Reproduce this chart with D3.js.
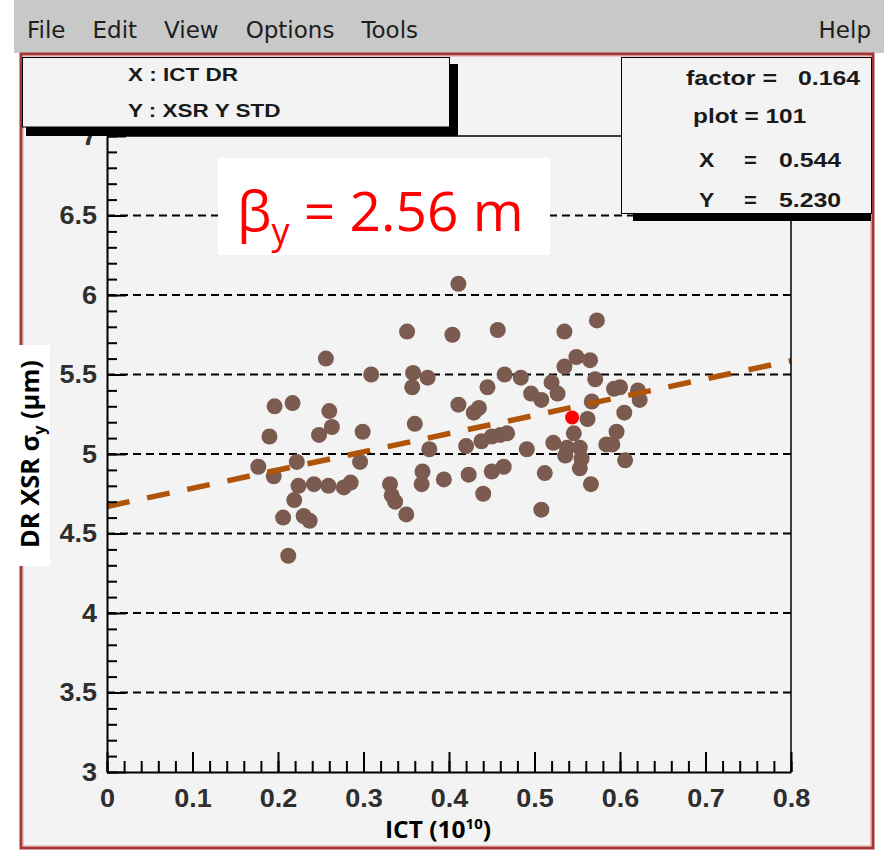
<!DOCTYPE html>
<html>
<head>
<meta charset="utf-8">
<script src="https://cdn.jsdelivr.net/npm/d3@7"></script>
<style>
  body { margin: 0; background: #ffffff; }
  svg { display: block; }
</style>
</head>
<body>
<svg id="chart" width="884" height="852"></svg>
<script>
// ---- data -------------------------------------------------------------
// bunch charge from the ICT (1e10) and vertical beam size from the XSR (um)
const ictValues = [
  0.177, 0.195, 0.190, 0.196, 0.217, 0.222, 0.206, 0.212, 0.219, 0.224,
  0.230, 0.237, 0.242, 0.248, 0.256, 0.260, 0.263, 0.259, 0.277, 0.285,
  0.299, 0.296, 0.309, 0.331, 0.333, 0.337, 0.350, 0.351, 0.358, 0.375,
  0.357, 0.360, 0.377, 0.369, 0.368, 0.394, 0.411, 0.404, 0.411, 0.435,
  0.429, 0.420, 0.438, 0.450, 0.468, 0.423, 0.450, 0.464, 0.440, 0.445,
  0.457, 0.465, 0.484, 0.496, 0.508, 0.491, 0.512, 0.508, 0.520, 0.527,
  0.535, 0.535, 0.549, 0.565, 0.571, 0.567, 0.562, 0.573, 0.593, 0.600,
  0.621, 0.623, 0.605, 0.546, 0.522, 0.538, 0.536, 0.553, 0.555, 0.553,
  0.596, 0.591, 0.584, 0.606, 0.566, 0.460
];
const stdValues = [
  4.92, 4.86, 5.11, 5.30, 5.32, 4.95, 4.60, 4.36, 4.71, 4.80,
  4.61, 4.58, 4.81, 5.12, 5.60, 5.27, 5.17, 4.80, 4.79, 4.82,
  5.14, 4.95, 5.50, 4.81, 4.74, 4.70, 4.62, 5.77, 5.51, 5.48,
  5.42, 5.19, 5.03, 4.89, 4.81, 4.84, 6.07, 5.75, 5.31, 5.29,
  5.26, 5.05, 5.08, 5.11, 5.13, 4.87, 4.89, 4.92, 4.75, 5.42,
  5.78, 5.50, 5.48, 5.38, 5.34, 5.03, 4.88, 4.65, 5.45, 5.38,
  5.77, 5.55, 5.61, 5.59, 5.47, 5.33, 5.22, 5.84, 5.41, 5.42,
  5.40, 5.34, 5.26, 5.13, 5.07, 5.04, 4.99, 5.04, 4.97, 4.91,
  5.14, 5.06, 5.06, 4.96, 4.81, 5.12
];
// the point picked with the cursor
const cursorPoint = { x: 0.544, y: 5.230 };
// straight-line fit of size vs. charge
const fitIntercept = 4.67;
const fitSlope = 1.146;

const xTicks = [0, 0.1, 0.2, 0.3, 0.4, 0.5, 0.6, 0.7, 0.8];
const yTicks = [3, 3.5, 4, 4.5, 5, 5.5, 6, 6.5, 7];
const gridLevels = [3.5, 4, 4.5, 5, 5.5, 6, 6.5];
const menuItems = ["File", "Edit", "View", "Options", "Tools"];
const axisBoxLines = ["X : ICT DR", "Y : XSR Y STD"];
const infoRows = [
  { key: "factor =", val: "0.164" },
  { key: "plot  = 101", val: "" },
  { key: "X", val: "0.544" },
  { key: "Y", val: "5.230" }
];

// ---- drawing ----------------------------------------------------------
const svg = d3.select("#chart");
const sans = "'Liberation Sans', Arial, sans-serif";

// stretch a text element horizontally (the X11 bitmap fonts run wide)
function widen(sel, k) {
  sel.each(function () {
    const w = this.getComputedTextLength();
    d3.select(this).attr("textLength", w * k).attr("lengthAdjust", "spacingAndGlyphs");
  });
}

// menu bar
svg.append("rect").attr("x", 14).attr("y", 0).attr("width", 870).attr("height", 53)
  .attr("fill", "#c8c8c8");
let mx = 27;
menuItems.forEach(m => {
  const t = svg.append("text").attr("x", mx).attr("y", 38)
    .attr("font-family", "'DejaVu Sans', sans-serif").attr("font-size", 23)
    .attr("fill", "#1e1e1e").text(m);
  mx += t.node().getComputedTextLength() + 27;
});
svg.append("text").attr("x", 871).attr("y", 38).attr("text-anchor", "end")
  .attr("font-family", "'DejaVu Sans', sans-serif").attr("font-size", 23)
  .attr("fill", "#1e1e1e").text("Help");

// canvas
svg.append("rect").attr("x", 21).attr("y", 54).attr("width", 852).attr("height", 794)
  .attr("fill", "#f3f3f3").attr("stroke", "#a83434").attr("stroke-width", 3);
svg.append("rect").attr("x", 23.5).attr("y", 56.5).attr("width", 847).attr("height", 789)
  .attr("fill", "none").attr("stroke", "#eec4c4").attr("stroke-width", 1);

// scales
const x = d3.scaleLinear().domain([0, 0.8]).range([107, 791]);
const y = d3.scaleLinear().domain([3, 7]).range([772, 136]);

// horizontal dashed grid
svg.append("g").selectAll("line").data(gridLevels).join("line")
  .attr("x1", x(0)).attr("x2", x(0.8))
  .attr("y1", d => y(d)).attr("y2", d => y(d))
  .attr("stroke", "#000").attr("stroke-width", 2).attr("stroke-dasharray", "8,5");

// scatter points
const pts = ictValues.map((v, i) => ({ x: v, y: stdValues[i] }));
svg.append("g").selectAll("circle").data(pts).join("circle")
  .attr("cx", d => x(d.x)).attr("cy", d => y(d.y)).attr("r", 8)
  .attr("fill", "#7b5b4f");

// fit line
const fitDomain = x.domain();
svg.append("line")
  .attr("x1", x(fitDomain[0])).attr("y1", y(fitIntercept + fitSlope * fitDomain[0]))
  .attr("x2", x(fitDomain[1])).attr("y2", y(fitIntercept + fitSlope * fitDomain[1]))
  .attr("stroke", "#b0540a").attr("stroke-width", 5.5).attr("stroke-dasharray", "23,18");

// cursor point
svg.append("circle").attr("cx", x(cursorPoint.x)).attr("cy", y(cursorPoint.y)).attr("r", 7)
  .attr("fill", "#ff0000");

// frame
svg.append("line").attr("x1", x(0)).attr("x2", x(0.8)).attr("y1", y(7)).attr("y2", y(7))
  .attr("stroke", "#000").attr("stroke-width", 1.5);
svg.append("line").attr("x1", x(0.8)).attr("x2", x(0.8)).attr("y1", y(7)).attr("y2", y(3))
  .attr("stroke", "#000").attr("stroke-width", 1.5);

// axes: minor ticks
svg.append("g").attr("transform", `translate(0,${y(3)})`)
  .call(d3.axisBottom(x).tickValues(d3.range(0, 0.8001, 0.02)).tickSize(-11).tickFormat(""))
  .call(g => g.select(".domain").remove())
  .selectAll("line").attr("stroke-width", 2);
svg.append("g").attr("transform", `translate(${x(0)},0)`)
  .call(d3.axisLeft(y).tickValues(d3.range(3, 7.001, 0.1)).tickSize(-10).tickFormat(""))
  .call(g => g.select(".domain").remove())
  .selectAll("line").attr("stroke-width", 2);

// axes: major ticks and labels
const xAxis = svg.append("g").attr("transform", `translate(0,${y(3)})`)
  .call(d3.axisBottom(x).tickValues(xTicks).tickSize(-20).tickSizeOuter(0).tickPadding(17)
    .tickFormat(d3.format("")));
const yAxis = svg.append("g").attr("transform", `translate(${x(0)},0)`)
  .call(d3.axisLeft(y).tickValues(yTicks).tickSize(-19).tickSizeOuter(0).tickPadding(10)
    .tickFormat(d3.format("")));
[xAxis, yAxis].forEach(g => {
  g.select(".domain").attr("stroke", "#000").attr("stroke-width", 2);
  g.selectAll(".tick line").attr("stroke", "#000").attr("stroke-width", 2);
  g.selectAll("text").attr("font-family", sans).attr("font-weight", "bold")
    .attr("font-size", 25).attr("fill", "#2e2e2e").call(widen, 1.08);
});

// axis-name box (top left)
svg.append("rect").attr("x", 450).attr("y", 64).attr("width", 8).attr("height", 72).attr("fill", "#000");
svg.append("rect").attr("x", 26).attr("y", 127).attr("width", 432).attr("height", 9).attr("fill", "#000");
svg.append("rect").attr("x", 22.5).attr("y", 57.5).attr("width", 427).attr("height", 69.5)
  .attr("fill", "#f3f3f3").attr("stroke", "#000").attr("stroke-width", 1);
axisBoxLines.forEach((s, i) => {
  svg.append("text").attr("x", 128).attr("y", 81 + i * 36)
    .attr("font-family", sans).attr("font-weight", "bold").attr("font-size", 18)
    .attr("fill", "#1a1a1a").text(s).call(widen, 1.25);
});

// info box (top right)
svg.append("rect").attr("x", 633).attr("y", 213).attr("width", 238).attr("height", 8).attr("fill", "#000");
svg.append("rect").attr("x", 621.5).attr("y", 57.5).attr("width", 250).attr("height", 156)
  .attr("fill", "#f3f3f3").attr("stroke", "#000").attr("stroke-width", 1);
const infoFont = g => g.attr("font-family", sans).attr("font-weight", "bold")
  .attr("font-size", 20).attr("fill", "#1a1a1a");
svg.append("text").call(infoFont).attr("x", 686).attr("y", 85).text(infoRows[0].key).call(widen, 1.25);
svg.append("text").call(infoFont).attr("x", 798).attr("y", 85).text(infoRows[0].val).call(widen, 1.24);
svg.append("text").call(infoFont).attr("x", 693).attr("y", 123).text(infoRows[1].key).call(widen, 1.22);
[2, 3].forEach((r, i) => {
  const by = 167 + i * 40;
  svg.append("text").call(infoFont).attr("x", 699).attr("y", by).text(infoRows[r].key).call(widen, 1.15);
  svg.append("text").call(infoFont).attr("x", 744).attr("y", by).text("=").call(widen, 1.1);
  svg.append("text").call(infoFont).attr("x", 779).attr("y", by).text(infoRows[r].val).call(widen, 1.24);
});

// beta annotation
svg.append("rect").attr("x", 218).attr("y", 158).attr("width", 332).attr("height", 97).attr("fill", "#ffffff");
const beta = svg.append("text").attr("x", 237).attr("y", 231)
  .attr("font-family", "'Open Sans', sans-serif").attr("font-size", 55).attr("fill", "#ff0000");
beta.append("tspan").text("β");
beta.append("tspan").attr("font-size", 36).attr("dy", 13).text("y");
beta.append("tspan").attr("dy", -13).text(" = 2.56 m");

// y-axis title
svg.append("rect").attr("x", 8).attr("y", 345).attr("width", 42).attr("height", 221).attr("fill", "#ffffff");
const yTitle = svg.append("text").attr("transform", "translate(39,454) rotate(-90)")
  .attr("text-anchor", "middle").attr("font-family", "'Open Sans', sans-serif")
  .attr("font-weight", "bold").attr("font-size", 25).attr("fill", "#000");
yTitle.append("tspan").text("DR XSR σ");
yTitle.append("tspan").attr("font-size", 16).attr("dy", 6).text("y");
yTitle.append("tspan").attr("dy", -6).text(" (μm)");
yTitle.attr("textLength", 188).attr("lengthAdjust", "spacingAndGlyphs");

// x-axis title
const xTitle = svg.append("text").attr("x", 438).attr("y", 838).attr("text-anchor", "middle")
  .attr("font-family", "'Open Sans', sans-serif").attr("font-weight", "bold")
  .attr("font-size", 23).attr("fill", "#000");
xTitle.append("tspan").text("ICT (10");
xTitle.append("tspan").attr("font-size", 14).attr("dy", -9).text("10");
xTitle.append("tspan").attr("dy", 9).text(")");
xTitle.attr("textLength", 106).attr("lengthAdjust", "spacingAndGlyphs");
</script>
</body>
</html>
